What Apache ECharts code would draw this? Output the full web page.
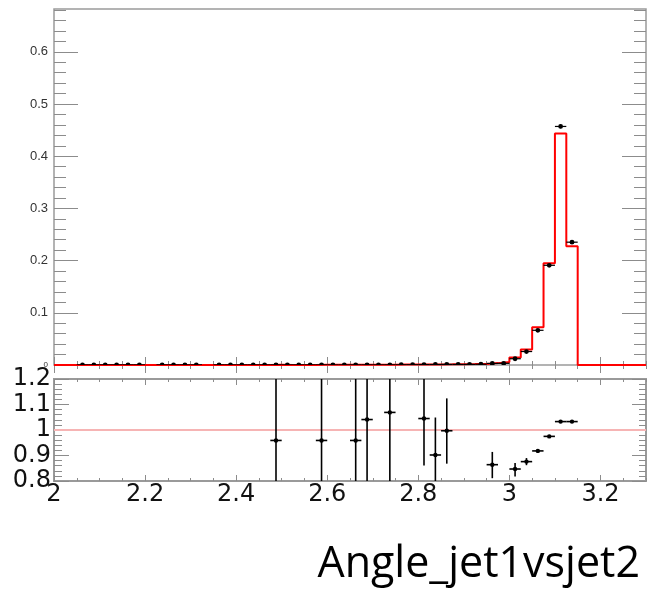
<!DOCTYPE html>
<html><head><meta charset="utf-8">
<script src="https://cdn.jsdelivr.net/npm/echarts@6/dist/echarts.min.js"></script>
<style>html,body{margin:0;padding:0;background:#fff}#c{width:650px;height:590px}</style>
</head><body><div id="c"></div>
<script>
// ---- data ----
const binWidth = 0.025;
const binCenters = [2.0125,2.0375,2.0625,2.0875,2.1125,2.1375,2.1625,2.1875,2.2125,2.2375,
  2.2625,2.2875,2.3125,2.3375,2.3625,2.3875,2.4125,2.4375,2.4625,2.4875,
  2.5125,2.5375,2.5625,2.5875,2.6125,2.6375,2.6625,2.6875,2.7125,2.7375,
  2.7625,2.7875,2.8125,2.8375,2.8625,2.8875,2.9125,2.9375,2.9625,2.9875,
  3.0125,3.0375,3.0625,3.0875,3.1125,3.1375,3.1625,3.1875,3.2125,3.2375,
  3.2625,3.2875];
// simulation histogram (red)
const mcValues = [0,0,0.0002,0.0002,0.0002,0.0002,0.0002,0.0002,0,0.0002,
  0.0002,0.0002,0.0002,0,0.0002,0.0002,0.0002,0.0002,0.0002,0.0003,
  0.0002,0.0002,0.0002,0.0003,0.0003,0.0003,0.0003,0.0003,0.0004,0.0004,
  0.0008,0.0009,0.0009,0.0011,0.0012,0.0014,0.0017,0.0021,0.0036,0.0058,
  0.0142,0.0295,0.0722,0.1949,0.4436,0.2276,0,0,0,0,
  0,0];
// data points (black)
const dataValues = [null,null,0.0002,0.0002,0.0002,0.0002,0.0002,0.0002,null,0.0002,
  0.0002,0.0002,0.0002,null,0.0002,0.0002,0.0002,0.0002,0.0002,0.0003,
  0.0002,0.0002,0.0002,0.0003,0.0002,0.0002,0.0003,0.0003,0.0003,0.0004,
  0.0005,0.0006,0.0009,0.0010,0.0012,0.0011,0.0012,0.0014,0.0030,0.0032,
  0.0120,0.0258,0.0665,0.1910,0.4570,0.2353,null,null,null,null,
  null,null];
const dataErrors = [0,0,0.0002,0.0002,0.0002,0.0002,0.0002,0.0002,0,0.0002,
  0.0002,0.0002,0.0002,0,0.0002,0.0002,0.0002,0.0002,0.0002,0.0003,
  0.0002,0.0002,0.0002,0.0003,0.0002,0.0002,0.0003,0.0003,0.0003,0.0003,
  0.0003,0.0003,0.0004,0.0004,0.0004,0.0004,0.0004,0.0004,0.0005,0.0006,
  0.0008,0.0010,0.0015,0.0025,0.0035,0.0025,0,0,0,0,
  0,0];
// ratio panel
const ratioX  = [2.4875,2.5875,2.6625,2.6875,2.7375,2.8125,2.8375,2.8625,2.9625,3.0125,3.0375,3.0625,3.0875,3.1125,3.1375];
const ratioY  = [0.959,0.959,0.959,1.041,1.069,1.045,0.902,0.997,0.864,0.847,0.876,0.918,0.975,1.033,1.033];
const ratioLo = [0.0,0.0,0.0,0.0,0.0,0.861,0.60,0.868,0.811,0.818,0.862,0.911,0.972,1.031,1.030];
const ratioHi = [2.0,2.0,2.0,2.0,2.0,1.30,1.049,1.124,0.914,0.871,0.890,0.925,0.978,1.035,1.036];
const refLine = 1;
// ticks and labels
const xMajorTicks = [2,2.2,2.4,2.6,2.8,3,3.2];
const xTickLabels = ['2','2.2','2.4','2.6','2.8','3','3.2'];
const topYTicks = [0,0.1,0.2,0.3,0.4,0.5,0.6];
const topYLabels = ['0','0.1','0.2','0.3','0.4','0.5','0.6'];
const ratioYTicks = [0.8,0.9,1,1.1,1.2];
const ratioYLabels = ['0.8','0.9','1','1.1','1.2'];
const titleText = 'Angle_jet1vsjet2';

// ---- scaffolding ----
const X_MIN = 2, X_MAX = 3.3, TOP_MAX = 0.682, R_MIN = 0.8, R_MAX = 1.2;
function range(a, b, s) { const out = []; for (let v = a; v <= b + 1e-9; v += s) out.push(+v.toFixed(4)); return out; }
const xMinorTicks = range(2, 3.3, 0.05);
const topYMinor = range(0, 0.68, 0.02);
const ratioYMinor = range(0.8, 1.2, 0.02);
function lookup(ticks, labels, v) {
  let best = 0; for (let i = 0; i < ticks.length; i++) if (Math.abs(ticks[i]-v) < Math.abs(ticks[best]-v)) best = i;
  return labels[best];
}
const FONT = 'Liberation Sans';
const BIGFONT = 'DejaVu Sans';
const tickCol = '#8c8c8c';
function xAx(grid, pos, ticks, len, labelCfg) {
  return {
    type: 'value', gridIndex: grid, position: pos, min: X_MIN, max: X_MAX,
    axisLine: {show: false}, splitLine: {show: false},
    axisTick: {show: true, inside: true, length: len, customValues: ticks, lineStyle: {color: tickCol, width: 1}},
    axisLabel: labelCfg ? Object.assign({customValues: ticks}, labelCfg) : {show: false}
  };
}
function yAx(grid, pos, min, max, ticks, len, labelCfg) {
  return {
    type: 'value', gridIndex: grid, position: pos, min: min, max: max,
    axisLine: {show: false}, splitLine: {show: false},
    axisTick: {show: true, inside: true, length: len, customValues: ticks, lineStyle: {color: tickCol, width: 1}},
    axisLabel: labelCfg ? Object.assign({customValues: ticks}, labelCfg) : {show: false}
  };
}

const chart = echarts.init(document.getElementById('c'), null, {renderer: 'canvas'});

const histLine = binCenters.map((c, i) => [c - binWidth/2, mcValues[i]]);
histLine.push([X_MAX, 0]);
const pointData = [];
binCenters.forEach((c, i) => { if (dataValues[i] !== null) pointData.push([c, dataValues[i], dataErrors[i]]); });
const ratioData = ratioX.map((x, i) => [x, ratioY[i], ratioLo[i], ratioHi[i]]);

const option = {
  animation: false,
  backgroundColor: '#fff',
  grid: [
    {left: 54, top: 9, width: 592, height: 356, show: true, borderColor: '#9a9a9a', borderWidth: 1.5, backgroundColor: 'transparent'},
    {left: 54, top: 379, width: 592, height: 102, show: true, borderColor: '#9a9a9a', borderWidth: 2, backgroundColor: 'transparent'}
  ],
  xAxis: [
    xAx(0, 'bottom', xMajorTicks, 8),
    xAx(0, 'bottom', xMinorTicks, 4),
    xAx(0, 'top', xMajorTicks, 8),
    xAx(0, 'top', xMinorTicks, 4),
    xAx(1, 'bottom', xMajorTicks, 6, {show: true, margin: 2, color: '#111', fontSize: 24, fontFamily: BIGFONT,
      formatter: v => lookup(xMajorTicks, xTickLabels, v)}),
    xAx(1, 'bottom', xMinorTicks, 3),
    xAx(1, 'top', xMajorTicks, 6),
    xAx(1, 'top', xMinorTicks, 3)
  ],
  yAxis: [
    yAx(0, 'left', 0, TOP_MAX, topYTicks, 24, {show: true, margin: 6, color: '#333', fontSize: 13, fontFamily: FONT,
      formatter: v => v === 0 ? '{s|0}' : lookup(topYTicks, topYLabels, v),
      rich: {s: {fontSize: 8, color: '#333', fontFamily: FONT}}}),
    yAx(0, 'left', 0, TOP_MAX, topYMinor, 12),
    yAx(0, 'right', 0, TOP_MAX, topYTicks, 24),
    yAx(0, 'right', 0, TOP_MAX, topYMinor, 12),
    yAx(1, 'left', R_MIN, R_MAX, ratioYTicks, 15, {show: true, margin: 3, color: '#111', fontSize: 24, fontFamily: BIGFONT,
      formatter: v => lookup(ratioYTicks, ratioYLabels, v)}),
    yAx(1, 'left', R_MIN, R_MAX, ratioYMinor, 8),
    yAx(1, 'right', R_MIN, R_MAX, ratioYTicks, 14),
    yAx(1, 'right', R_MIN, R_MAX, ratioYMinor, 7)
  ],
  series: [
    {
      type: 'line', xAxisIndex: 0, yAxisIndex: 0, data: histLine, step: 'end',
      symbol: 'none', clip: true, z: 2,
      lineStyle: {color: '#ff0000', width: 2}
    },
    {
      type: 'custom', xAxisIndex: 0, yAxisIndex: 0, data: pointData, z: 3, clip: true,
      renderItem: function (params, api) {
        const x = api.value(0), y = api.value(1), e = api.value(2);
        const p = api.coord([x, y]);
        const l = api.coord([x - binWidth/2, y]);
        const r = api.coord([x + binWidth/2, y]);
        const t = api.coord([x, y + e]);
        const b = api.coord([x, Math.max(0, y - e)]);
        const st = {stroke: '#000', lineWidth: 1.2};
        return {type: 'group', children: [
          {type: 'line', shape: {x1: l[0], y1: l[1], x2: r[0], y2: r[1]}, style: st},
          {type: 'line', shape: {x1: t[0], y1: t[1], x2: b[0], y2: b[1]}, style: st},
          {type: 'circle', shape: {cx: p[0], cy: p[1], r: 2.4}, style: {fill: '#000'}}
        ]};
      }
    },
    {
      type: 'line', xAxisIndex: 4, yAxisIndex: 4, data: [[X_MIN, refLine], [X_MAX, refLine]],
      symbol: 'none', z: 2, lineStyle: {color: '#f6b4b4', width: 2}
    },
    {
      type: 'custom', xAxisIndex: 4, yAxisIndex: 4, data: ratioData, z: 3,
      renderItem: function (params, api) {
        const x = api.value(0), y = api.value(1);
        const lo = Math.max(R_MIN, api.value(2)), hi = Math.min(R_MAX, api.value(3));
        const p = api.coord([x, y]);
        const l = api.coord([x - binWidth/2, y]);
        const r = api.coord([x + binWidth/2, y]);
        const t = api.coord([x, hi]);
        const b = api.coord([x, lo]);
        const st = {stroke: '#000', lineWidth: 1.6};
        return {type: 'group', children: [
          {type: 'line', shape: {x1: l[0], y1: l[1], x2: r[0], y2: r[1]}, style: st},
          {type: 'line', shape: {x1: t[0], y1: t[1], x2: b[0], y2: b[1]}, style: st},
          {type: 'circle', shape: {cx: p[0], cy: p[1], r: 2.2}, style: {fill: '#000'}}
        ]};
      }
    }
  ],
  graphic: [
    {type: 'text', right: 10, top: 543, style: {text: titleText, fontSize: 43, fontFamily: 'Open Sans', fill: '#000'}}
  ]
};
chart.setOption(option);
</script>
</body></html>
